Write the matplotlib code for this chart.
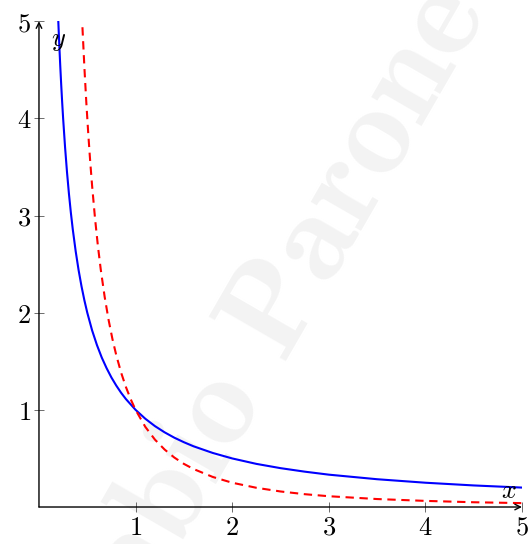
import matplotlib.pyplot as plt

plt.rcParams['mathtext.fontset'] = 'cm'
plt.rcParams['font.family'] = 'serif'
plt.rcParams['font.serif'] = ['DejaVu Serif']

# points
x_blue = [0.2, 0.21, 0.22, 0.23, 0.24, 0.25, 0.27, 0.29, 0.31, 0.33, 0.35, 0.38,
          0.41, 0.44, 0.47, 0.5, 0.55, 0.6, 0.65, 0.7, 0.75, 0.8, 0.85, 0.9, 1.0,
          1.1, 1.2, 1.3, 1.4, 1.5, 1.6, 1.8, 2.0, 2.25, 2.5, 2.75, 3.0, 3.5, 4.0,
          4.5, 5.0]
y_blue = [5.0, 4.762, 4.545, 4.348, 4.167, 4.0, 3.704, 3.448, 3.226, 3.030, 2.857,
          2.632, 2.439, 2.273, 2.128, 2.0, 1.818, 1.667, 1.538, 1.429, 1.333, 1.25,
          1.176, 1.111, 1.0, 0.909, 0.833, 0.769, 0.714, 0.667, 0.625, 0.556, 0.5,
          0.444, 0.4, 0.364, 0.333, 0.286, 0.25, 0.222, 0.2]

x_red = [0.45, 0.47, 0.49, 0.51, 0.53, 0.55, 0.58, 0.61, 0.64, 0.68, 0.72, 0.76,
         0.8, 0.85, 0.9, 0.95, 1.0, 1.1, 1.2, 1.3, 1.4, 1.5, 1.6, 1.8, 2.0, 2.25,
         2.5, 2.75, 3.0, 3.5, 4.0, 4.5, 5.0]
y_red = [4.938, 4.527, 4.165, 3.845, 3.560, 3.306, 2.973, 2.687, 2.441, 2.163,
         1.929, 1.731, 1.563, 1.384, 1.235, 1.108, 1.0, 0.826, 0.694, 0.592, 0.510,
         0.444, 0.391, 0.309, 0.25, 0.198, 0.16, 0.132, 0.111, 0.082, 0.063, 0.049,
         0.04]

ticks = [1, 2, 3, 4, 5]
tick_labels = ['$1$', '$2$', '$3$', '$4$', '$5$']

fig = plt.figure(figsize=(5.31, 5.44), dpi=100)
ax = fig.add_axes([0.0734, 0.068, 0.9096, 0.893])
ax.set_zorder(1)

# watermark (partly off the page, as in the original)
fig.text(0.198, -0.24, r'$\mathbf{Fabio\ Parone}$', color='#f3f3f3',
         fontsize=94, rotation=60, rotation_mode='anchor',
         ha='left', va='baseline', zorder=0)

ax.plot(x_blue, y_blue, color='blue', lw=1.5, zorder=3)
ax.plot(x_red, y_red, color='red', lw=1.5, dashes=(4, 2.7), zorder=3)

ax.set_xlim(0, 5)
ax.set_ylim(0, 5)
ax.patch.set_alpha(0)
for s in ax.spines.values():
    s.set_visible(False)

# axes with arrow heads
ax.annotate('', xy=(5, 0), xytext=(0, 0), annotation_clip=False,
            arrowprops=dict(arrowstyle='->', lw=1.0, color='black', shrinkA=0, shrinkB=0))
ax.annotate('', xy=(0, 5), xytext=(0, 0), annotation_clip=False,
            arrowprops=dict(arrowstyle='->', lw=1.0, color='black', shrinkA=0, shrinkB=0))

ax.set_xticks(ticks)
ax.set_xticklabels(tick_labels)
ax.set_yticks(ticks)
ax.set_yticklabels(tick_labels)
ax.tick_params(direction='inout', length=7, width=0.6, color='#555555',
               labelsize=19, pad=2)

ax.text(0.2, 4.8, '$y$', fontsize=19, ha='center', va='center')
ax.text(4.86, 0.17, '$x$', fontsize=19, ha='center', va='center')

plt.savefig('out.png', dpi=100)
